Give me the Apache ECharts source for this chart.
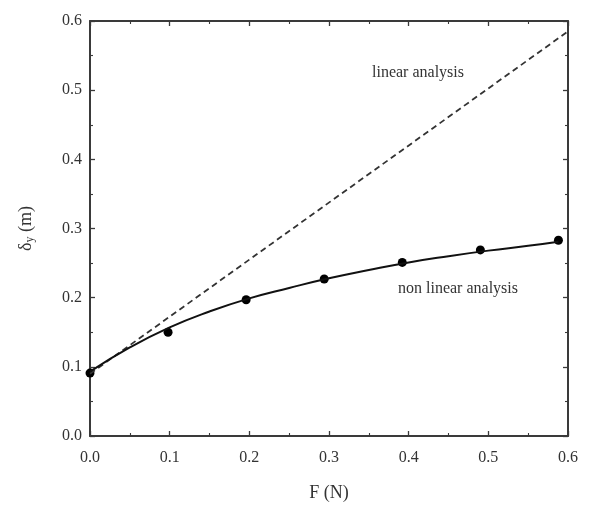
<!DOCTYPE html>
<html>
<head>
<meta charset="utf-8">
<script src="https://cdn.jsdelivr.net/npm/echarts@6/dist/echarts.min.js"></script>
<style>
  html, body { margin: 0; padding: 0; background: #fff; }
  #chart { width: 593px; height: 507px; }
</style>
</head>
<body>
<div id="chart"></div>
<script>
// measured loads (N) and deflections (m)
const forces = [0, 0.098, 0.196, 0.294, 0.392, 0.49, 0.588];
const measured = [0.091, 0.150, 0.197, 0.227, 0.251, 0.269, 0.283];
// fitted non linear curve
const fitForces = [0, 0.05, 0.1, 0.15, 0.2, 0.25, 0.3, 0.35, 0.4, 0.45, 0.5, 0.55, 0.588];
const fitValues = [0.093, 0.128, 0.157, 0.180, 0.199, 0.214, 0.228, 0.240, 0.251, 0.260, 0.268, 0.275, 0.281];
// linear analysis
const linForces = [0, 0.6];
const linValues = [0.09, 0.585];

const font = 'Liberation Serif, Times New Roman, serif';
const axisColor = '#3a3a3a';

function axisCommon(show, margin) {
  return {
    type: 'value',
    min: 0,
    max: 0.6,
    interval: 0.1,
    axisLine: { show: true, onZero: false, lineStyle: { color: axisColor, width: 2 } },
    axisTick: { show: true, inside: true, length: 5, lineStyle: { color: axisColor, width: 1.3 } },
    minorTick: { show: true, splitNumber: 2, length: 3, lineStyle: { color: axisColor, width: 1.1 } },
    splitLine: { show: false },
    axisLabel: {
      show: show,
      margin: margin || 8,
      color: '#333',
      fontFamily: font,
      fontSize: 16,
      formatter: v => v.toFixed(1)
    }
  };
}

const chart = echarts.init(document.getElementById('chart'));

chart.setOption({
  backgroundColor: '#fff',
  animation: false,
  grid: { left: 90, right: 25, top: 21, bottom: 71 },
  xAxis: [
    Object.assign(axisCommon(true, 14), {
      position: 'bottom',
      name: 'F (N)',
      nameLocation: 'middle',
      nameGap: 48,
      nameTextStyle: { fontFamily: font, fontSize: 18, color: '#333' }
    }),
    Object.assign(axisCommon(false), { position: 'top' })
  ],
  yAxis: [
    Object.assign(axisCommon(true, 8), {
      position: 'left',
      name: '{d|δ}{s|y}{d| (m)}',
      nameLocation: 'middle',
      nameGap: 54,
      nameTextStyle: {
        rich: {
          d: { fontFamily: font, fontSize: 18, color: '#333' },
          s: { fontFamily: font, fontSize: 12, color: '#333', verticalAlign: 'bottom', padding: [8, 0, 0, 0] }
        }
      }
    }),
    Object.assign(axisCommon(false), { position: 'right' })
  ],
  series: [
    {
      name: 'linear analysis',
      type: 'line',
      data: linForces.map((x, i) => [x, linValues[i]]),
      showSymbol: false,
      lineStyle: { color: '#333', width: 1.8, type: [6, 4] }
    },
    {
      name: 'non linear fit',
      type: 'line',
      data: fitForces.map((x, i) => [x, fitValues[i]]),
      smooth: true,
      showSymbol: false,
      lineStyle: { color: '#111', width: 2 }
    },
    {
      name: 'non linear analysis',
      type: 'scatter',
      data: forces.map((x, i) => [x, measured[i]]),
      symbolSize: 9,
      itemStyle: { color: '#000', opacity: 1 }
    }
  ],
  graphic: [
    {
      type: 'text',
      left: 372,
      top: 65,
      style: { text: 'linear analysis', fontFamily: font, fontSize: 16, fill: '#333' }
    },
    {
      type: 'text',
      left: 398,
      top: 281,
      style: { text: 'non linear analysis', fontFamily: font, fontSize: 16, fill: '#333' }
    }
  ]
});
</script>
</body>
</html>
